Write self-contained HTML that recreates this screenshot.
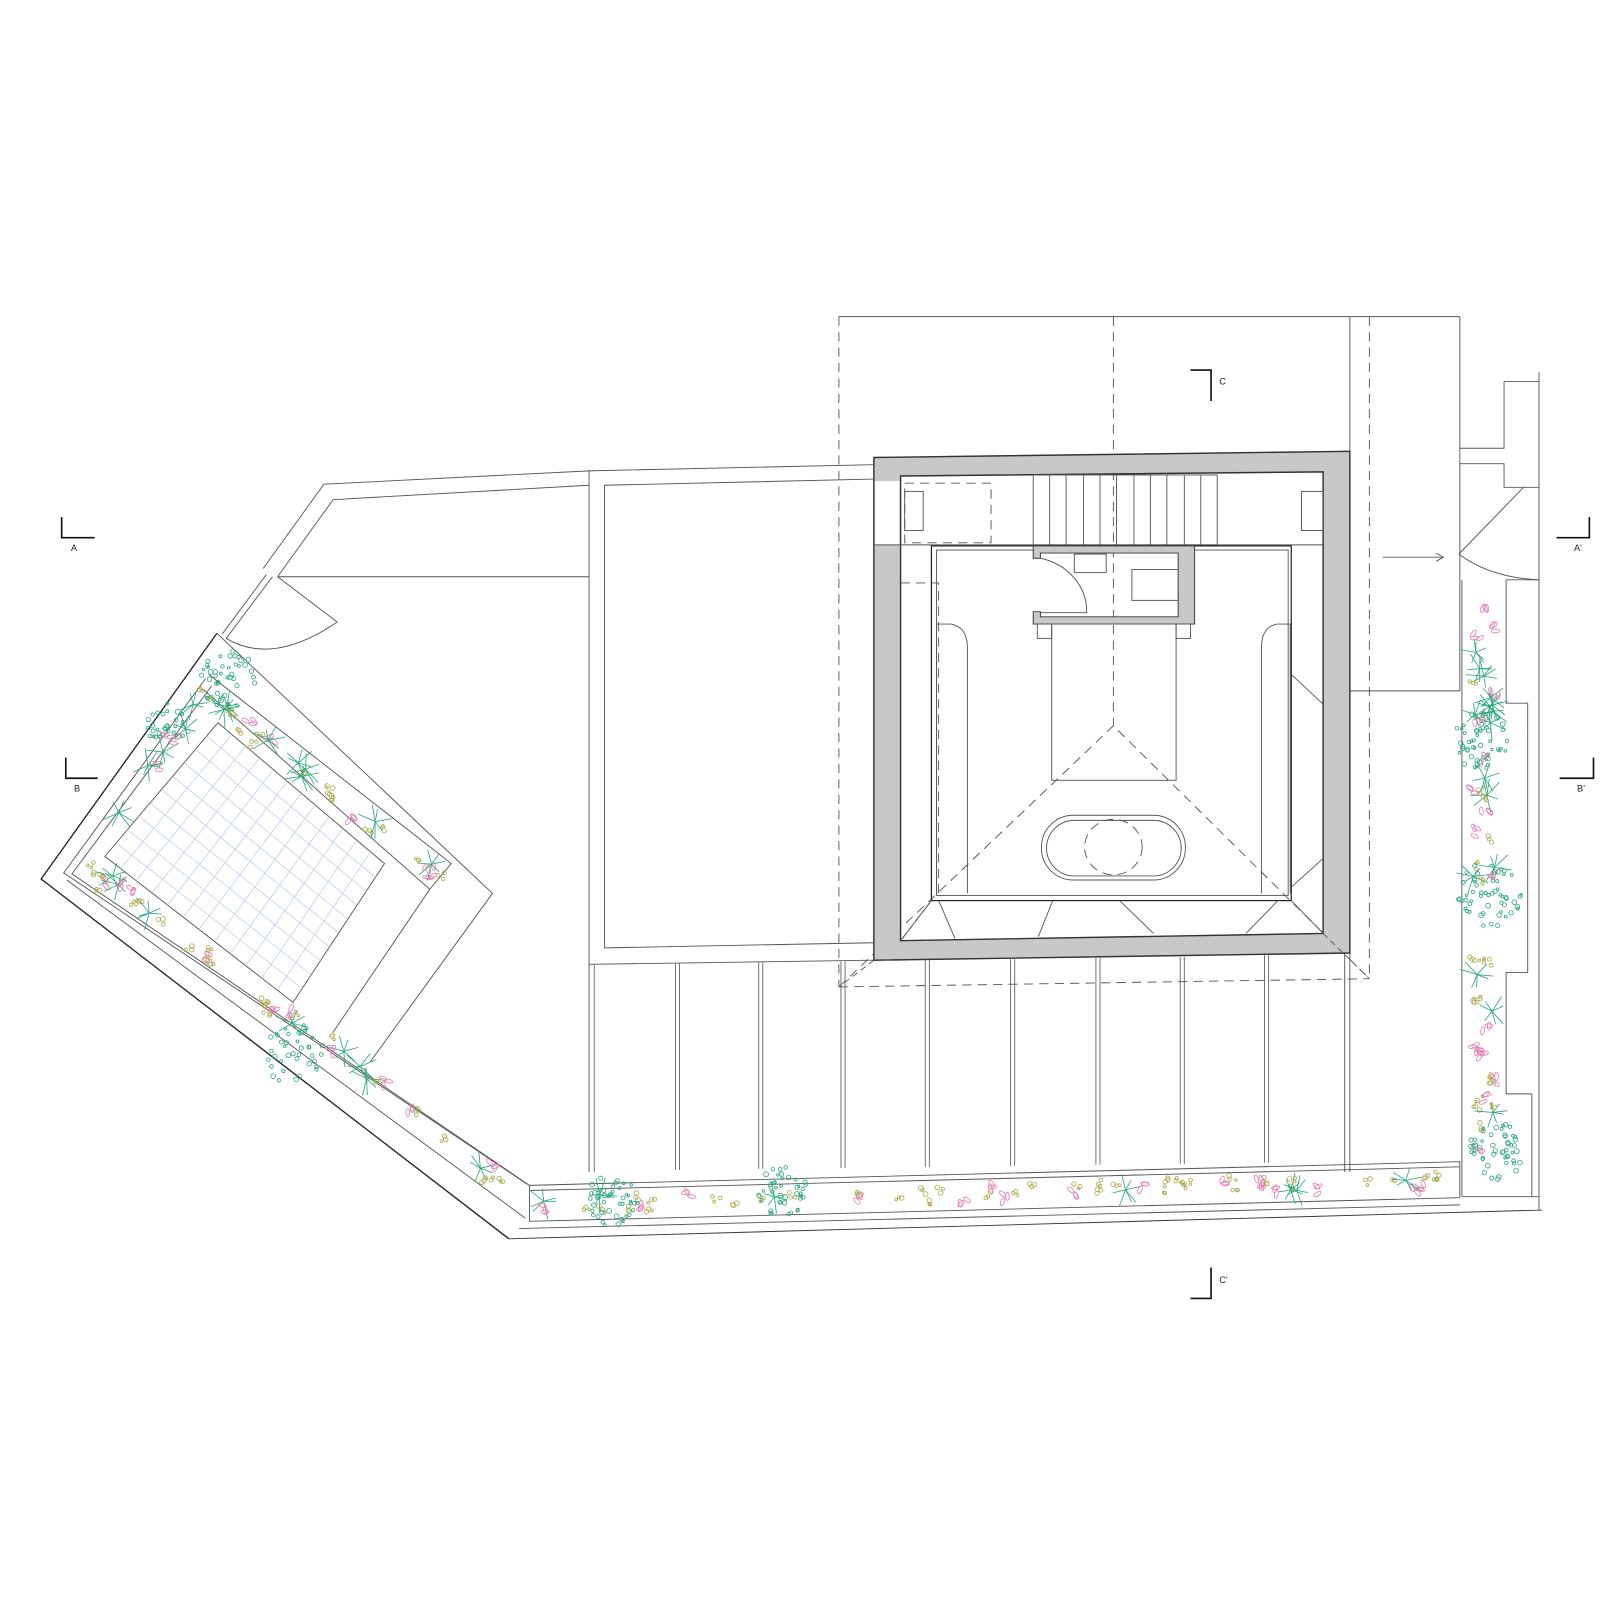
<!DOCTYPE html>
<html><head><meta charset="utf-8"><style>
html,body{margin:0;padding:0;background:#fff;}
svg{display:block;}
text{font-family:"Liberation Sans",sans-serif;font-size:9px;fill:#222;}
</style></head><body>
<svg id="s" width="1612" height="1612" viewBox="0 0 1568 1568" xmlns="http://www.w3.org/2000/svg">
<g fill="none" stroke="#555" stroke-width="0.9">
<!-- top dashed/solid frame -->
<line x1="816" y1="308" x2="1420" y2="308"/>
<line x1="1420" y1="308" x2="1420" y2="672"/>
<line x1="1313" y1="308" x2="1313" y2="1140"/>
<line x1="1308" y1="672" x2="1308" y2="1140"/>
<line x1="1313" y1="672" x2="1420" y2="672"/>
<g stroke-dasharray="9,6">
<line x1="816" y1="308" x2="816" y2="960"/>
<line x1="1083" y1="308" x2="1083" y2="706"/>
<line x1="1332" y1="308" x2="1332" y2="952"/>
<line x1="816" y1="960" x2="1332" y2="952"/>
<polyline points="816,960 1083,706 1332,952"/>
<rect x="880" y="470" width="84" height="58"/>
<polyline points="876,567 913,567 913,869"/>
<ellipse cx="1083" cy="824" rx="28" ry="27"/>
</g>
<!-- building gray wall -->
<path d="M850,445 L1313,439 L1313,927 L850,934 Z M876,463 L876,915 L1287,908 L1287,459 Z" fill="#c8c8c8" stroke="#333" stroke-width="1.4" fill-rule="evenodd"/>
<rect x="851" y="468" width="24" height="62" fill="#fff" stroke="none"/>
<line x1="850" y1="530" x2="1287" y2="530"/>
<!-- stairs -->
<g>
<rect x="1005" y="462" width="179" height="68"/>
<line x1="1021" y1="462" x2="1021" y2="530"/><line x1="1037" y1="462" x2="1037" y2="530"/>
<line x1="1054" y1="462" x2="1054" y2="530"/><line x1="1070" y1="462" x2="1070" y2="530"/>
<line x1="1086" y1="462" x2="1086" y2="530"/><line x1="1103" y1="462" x2="1103" y2="530"/>
<line x1="1119" y1="462" x2="1119" y2="530"/><line x1="1135" y1="462" x2="1135" y2="530"/>
<line x1="1152" y1="462" x2="1152" y2="530"/><line x1="1168" y1="462" x2="1168" y2="530"/>
</g>
<rect x="880" y="478" width="18" height="38"/>
<rect x="1266" y="478" width="21" height="38"/>
<!-- room -->
<rect x="906" y="531" width="350" height="345" stroke="#222" stroke-width="1.2"/>
<rect x="911" y="535" width="342" height="336"/>
<!-- bathroom -->
<path d="M1005,531 H1162 V607 H1005 V595 H1012 V600 H1146 V538 H1012 V543 H1005 Z" fill="#c8c8c8" stroke="#333"/>
<rect x="1045" y="539" width="31" height="18"/>
<rect x="1101" y="554" width="45" height="30"/>
<path d="M1012,543 A58,53 0 0 1 1057,596 L1012,596"/>
<rect x="1009" y="607" width="14" height="14"/>
<rect x="1144" y="607" width="14" height="14"/>
<rect x="1023" y="607" width="121" height="152"/>
<!-- benches -->
<path d="M911,869 V607 H925 Q941,610 941,630 V869"/>
<path d="M1255,869 V607 H1242 Q1227,610 1227,630 V869"/>
<!-- tub -->
<rect x="1013" y="793" width="140" height="63" rx="31"/>
<rect x="1018" y="798" width="131" height="54" rx="27"/>
<!-- floor lines -->
<line x1="906" y1="876" x2="876" y2="915"/><line x1="1256" y1="876" x2="1287" y2="908"/>
<line x1="913" y1="876" x2="929" y2="913"/><line x1="1024" y1="876" x2="1010" y2="911"/>
<line x1="1089" y1="876" x2="1122" y2="908"/><line x1="1243" y1="876" x2="1212" y2="908"/>
<line x1="1256" y1="656" x2="1287" y2="685"/><line x1="1256" y1="863" x2="1287" y2="835"/>
<line x1="906" y1="876" x2="876" y2="915" stroke-dasharray="6,4"/>
<line x1="1287" y1="908" x2="1332" y2="952" stroke-dasharray="6,4"/>
<line x1="850" y1="934" x2="816" y2="960" stroke-dasharray="6,4"/>
<!-- left room -->
<polyline points="573,1140 573,458 850,452"/>
<polyline points="588,922 588,472 850,466"/>
<line x1="588" y1="922" x2="850" y2="917"/>
<line x1="573" y1="938" x2="850" y2="934"/>
<!-- columns -->
<g stroke="#666">
<line x1="578" y1="938" x2="578" y2="1140"/>
<line x1="657" y1="937" x2="657" y2="1138"/><line x1="661" y1="937" x2="661" y2="1138"/>
<line x1="738" y1="936" x2="738" y2="1137"/><line x1="742" y1="936" x2="742" y2="1137"/>
<line x1="818" y1="935" x2="818" y2="1136"/><line x1="822" y1="935" x2="822" y2="1136"/>
<line x1="900" y1="934" x2="900" y2="1135"/><line x1="904" y1="934" x2="904" y2="1135"/>
<line x1="983" y1="933" x2="983" y2="1134"/><line x1="987" y1="933" x2="987" y2="1134"/>
<line x1="1066" y1="932" x2="1066" y2="1133"/><line x1="1070" y1="932" x2="1070" y2="1133"/>
<line x1="1148" y1="931" x2="1148" y2="1132"/><line x1="1152" y1="931" x2="1152" y2="1132"/>
<line x1="1230" y1="929" x2="1230" y2="1131"/><line x1="1234" y1="929" x2="1234" y2="1131"/>
</g>
<!-- bottom planter -->
<polyline points="515,1153 1420,1130 1420,1165 515,1188 515,1153"/>
<line x1="515" y1="1158" x2="1420" y2="1135"/>
<line x1="495" y1="1205" x2="1500" y2="1177" stroke="#333"/>
<line x1="505" y1="1195" x2="1420" y2="1172"/>
<!-- right side -->
<polyline points="1463,371 1497,371"/>
<line x1="1497" y1="362" x2="1497" y2="1177"/>
<polyline points="1420,436 1463,436 1463,371"/>
<polyline points="1420,451 1463,451 1463,474 1497,474"/>
<line x1="1419" y1="539" x2="1482" y2="474"/>
<path d="M1419,539 Q1450,562 1497,564"/>
<line x1="1465" y1="564" x2="1497" y2="564"/>
<polyline points="1465,564 1465,684 1486,684 1486,946 1465,946 1465,1064 1490,1064 1490,1164"/>
<line x1="1422" y1="564" x2="1422" y2="1164"/>
<line x1="1422" y1="1164" x2="1497" y2="1164"/>
<line x1="1345" y1="542" x2="1404" y2="542"/>
<polyline points="1397,538 1404,542 1397,546"/>
<!-- left structure -->
<polyline points="256,553 315,471 573,458"/>
<polyline points="270,561 324,486 573,472"/>
<line x1="270" y1="561" x2="573" y2="561"/>
<line x1="265" y1="561" x2="220" y2="621"/>
<line x1="259" y1="559" x2="216" y2="617"/>
<line x1="270" y1="561" x2="328" y2="605"/>
<path d="M220,621 Q265,648 328,605"/>
<polyline points="211,616 40,855 495,1205" stroke="#222" stroke-width="1.3"/>
<polyline points="211,616 479,869 360,1033"/>
<polyline points="203,656 439,840 418,865 197,670"/>
<line x1="418" y1="865" x2="324" y2="1004"/>
<polyline points="200,660 62,849 513,1152"/>
<polyline points="206,667 70,850 515,1153"/>
<line x1="65" y1="856" x2="511" y2="1185"/>
<polyline points="212,703 102,833 285,975 374,840 212,703"/>
</g>
<!-- pool grid -->
<g id="grid" stroke="#b8cde8" stroke-width="0.7" fill="none"></g>
<!-- section marks -->
<g stroke="#111" stroke-width="1.6" fill="none">
<polyline points="60,503 60,523 92,523"/>
<polyline points="64,737 64,757 95,757"/>
<polyline points="1514,523 1546,523 1546,503"/>
<polyline points="1517,757 1550,757 1550,737"/>
<polyline points="1158,360 1178,360 1178,390"/>
<polyline points="1158,1263 1178,1263 1178,1233"/>
</g>
<text x="69" y="536">A</text><text x="72" y="770">B</text>
<text x="1531" y="536">A'</text><text x="1534" y="770">B'</text>
<text x="1186" y="374">C</text><text x="1186" y="1248">C'</text>
<g id="plants" fill="none" stroke-width="0.8"></g>
</svg>
<script>
(function(){
var NS="http://www.w3.org/2000/svg";
var g=document.getElementById('grid');
// pool corners: A(212,703) B(374,840) C(285,975) D(102,833)
function L(p,a,b){var e=document.createElementNS(NS,'line');e.setAttribute('x1',a[0]);e.setAttribute('y1',a[1]);e.setAttribute('x2',b[0]);e.setAttribute('y2',b[1]);p.appendChild(e);}
var A=[212,703],B=[374,840],C=[285,975],D=[102,833];
function lerp(p,q,t){return [p[0]+(q[0]-p[0])*t,p[1]+(q[1]-p[1])*t];}
for(var i=1;i<12;i++){var t=i/12;L(g,lerp(A,B,t),lerp(D,C,t));}
for(var i=1;i<10;i++){var t=i/10;L(g,lerp(A,D,t),lerp(B,C,t));}
var P=document.getElementById('plants');
var seed=7;function r(){seed=(seed*16807)%2147483647;return seed/2147483647;}
function star(x,y){var s=document.createElementNS(NS,'g');s.setAttribute('stroke','#2aa87a');
 for(var k=0;k<7;k++){var a=k*Math.PI*2/7+r();var l=10+r()*8;L(s,[x,y],[x+Math.cos(a)*l,y+Math.sin(a)*l]);}P.appendChild(s);}
function flower(x,y){var s=document.createElementNS(NS,'g');s.setAttribute('stroke','#e87bb5');
 for(var k=0;k<3;k++){var e=document.createElementNS(NS,'ellipse');var a=r()*360;e.setAttribute('cx',x+Math.cos(a)*4);e.setAttribute('cy',y+Math.sin(a)*4);e.setAttribute('rx',4);e.setAttribute('ry',1.8);e.setAttribute('transform','rotate('+(a|0)+' '+x+' '+y+')');s.appendChild(e);}P.appendChild(s);}
function dot(x,y,c){var e=document.createElementNS(NS,'circle');e.setAttribute('cx',x);e.setAttribute('cy',y);e.setAttribute('r',1.2+r()*1.2);e.setAttribute('stroke',c);P.appendChild(e);}
function cluster(x,y,n,rad){for(var i=0;i<n;i++){var a=r()*6.28,d=Math.sqrt(r())*rad;dot(x+Math.cos(a)*d,y+Math.sin(a)*d,'#2aa87a');}}
function seg(a,b,n,w){for(var i=0;i<n;i++){var t=r();var p=lerp(a,b,t);var x=p[0]+(r()-.5)*w,y=p[1]+(r()-.5)*w;var q=r();
 if(q<0.25)star(x,y);else if(q<0.55)flower(x,y);else{for(var j=0;j<3;j++)dot(x+(r()-.5)*8,y+(r()-.5)*8,'#a9a94a');}}}
seg([215,690],[425,852],26,14);
seg([85,840],[500,1160],40,18);
seg([110,800],[205,670],10,14);
seg([525,1170],[1410,1148],60,16);
seg([1443,580],[1445,1150],50,22);
cluster(222,660,45,28);cluster(165,705,30,22);cluster(285,1025,40,30);
cluster(595,1168,45,25);cluster(760,1158,40,25);
cluster(1440,720,50,28);cluster(1448,870,55,32);cluster(1455,1120,50,28);
})();
</script>
</body></html>
